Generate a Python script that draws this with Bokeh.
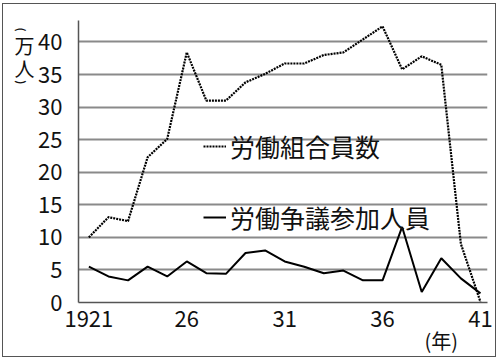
import math
from bokeh.plotting import figure
from bokeh.models import (Range1d, FixedTicker, LinearAxis, Legend, LegendItem,
                          InlineStyleSheet, AllLabels)
from bokeh.embed import file_html
from bokeh.resources import INLINE

# ---- data ----
years = list(range(1921, 1942))
union_members = [10.0, 13.1, 12.5, 22.3, 25.1, 38.4, 31.0, 31.0, 33.8, 35.1,
                 36.7, 36.7, 38.0, 38.4, 40.4, 42.4, 35.8, 37.8, 36.5, 9.0, 0.1]
dispute_participants = [5.5, 4.0, 3.4, 5.5, 4.0, 6.3, 4.5, 4.4, 7.6, 8.0,
                        6.3, 5.5, 4.5, 4.9, 3.4, 3.4, 11.6, 1.6, 6.8, 3.7, 1.4]
x_ticks = [1921, 1926, 1931, 1936, 1941]
x_tick_labels = ["1921", "26", "31", "36", "41"]
y_ticks = [0, 5, 10, 15, 20, 25, 30, 35, 40]
unit_year_tick = [1939]
unit_year_label = ["(年)"]
unit_people_ticks = [39.5, 35.9]
unit_people_labels = ["万", "人"]
unit_paren_ticks = [41.6, 33.5]
unit_paren_labels = ["(", ")"]
series_names = ["労働組合員数", "労働争議参加人員"]

FONT = "Noto Sans CJK JP"

p = figure(width=500, height=360, output_backend="svg", toolbar_location=None,
           x_range=Range1d(1920.47, 1941.36), y_range=Range1d(0, 43.3),
           min_border_left=78, min_border_right=13, min_border_top=20,
           min_border_bottom=58)
p.outline_line_color = None
p.background_fill_color = "white"
p.border_fill_color = "white"
p.stylesheets = [InlineStyleSheet(css=(
    ":host::after{content:'';position:absolute;left:2px;top:3px;width:494px;"
    "height:354px;border:1px solid #555555;box-sizing:border-box;"
    "pointer-events:none;z-index:100;}"))]

p.xgrid.visible = False
p.ygrid.ticker = FixedTicker(ticks=y_ticks)
p.ygrid.grid_line_color = "#8a8a8a"
p.ygrid.grid_line_width = 2

for ax in (p.xaxis[0], p.yaxis[0]):
    ax.axis_line_color = "#555555"
    ax.axis_line_width = 1.5
    ax.major_tick_line_color = None
    ax.major_tick_out = 0
    ax.minor_tick_line_color = None
    ax.minor_tick_out = 0
    ax.major_label_text_font = FONT
    ax.major_label_text_font_size = "22px"
    ax.major_label_text_color = "#111111"

p.xaxis[0].ticker = FixedTicker(ticks=x_ticks)
p.xaxis[0].major_label_overrides = {t: l for t, l in zip(x_ticks, x_tick_labels)}
p.xaxis[0].major_label_standoff = 8
p.yaxis[0].ticker = FixedTicker(ticks=y_ticks)
p.yaxis[0].major_label_standoff = 16


def unit_axis(ticks, labels, standoff, size="20px", orientation="horizontal",
              style="normal"):
    return LinearAxis(ticker=FixedTicker(ticks=ticks),
                      major_label_overrides={t: l for t, l in zip(ticks, labels)},
                      major_label_policy=AllLabels(),
                      major_label_orientation=orientation,
                      axis_line_color=None, major_tick_line_color=None,
                      major_tick_out=0, minor_tick_line_color=None, minor_tick_out=0,
                      major_label_standoff=standoff,
                      major_label_text_font=FONT, major_label_text_font_size=size,
                      major_label_text_font_style=style,
                      major_label_text_color="#111111")


p.add_layout(unit_axis(unit_year_tick, unit_year_label, -4), "below")
p.add_layout(unit_axis(unit_people_ticks, unit_people_labels, 1), "left")
p.add_layout(unit_axis(unit_paren_ticks, unit_paren_labels, -10, "11px",
                       -math.pi / 2, "bold"), "left")

r_union = p.line(years, union_members, line_color="black", line_width=2.2, line_dash="2 1")
r_disp = p.line(years, dispute_participants, line_color="black", line_width=2)


def make_legend(name, r, loc):
    return Legend(items=[LegendItem(label=name, renderers=[r])], location=loc,
                  glyph_width=23, glyph_height=20, label_standoff=4, padding=0,
                  margin=0, border_line_color=None, background_fill_alpha=0,
                  label_text_font=FONT, label_text_font_size="25px",
                  label_text_color="#111111", label_height=25)


p.add_layout(make_legend(series_names[0], r_union, (125, 138)))
p.add_layout(make_legend(series_names[1], r_disp, (125, 67)))

open("out.html", "w").write(file_html(p, INLINE))
